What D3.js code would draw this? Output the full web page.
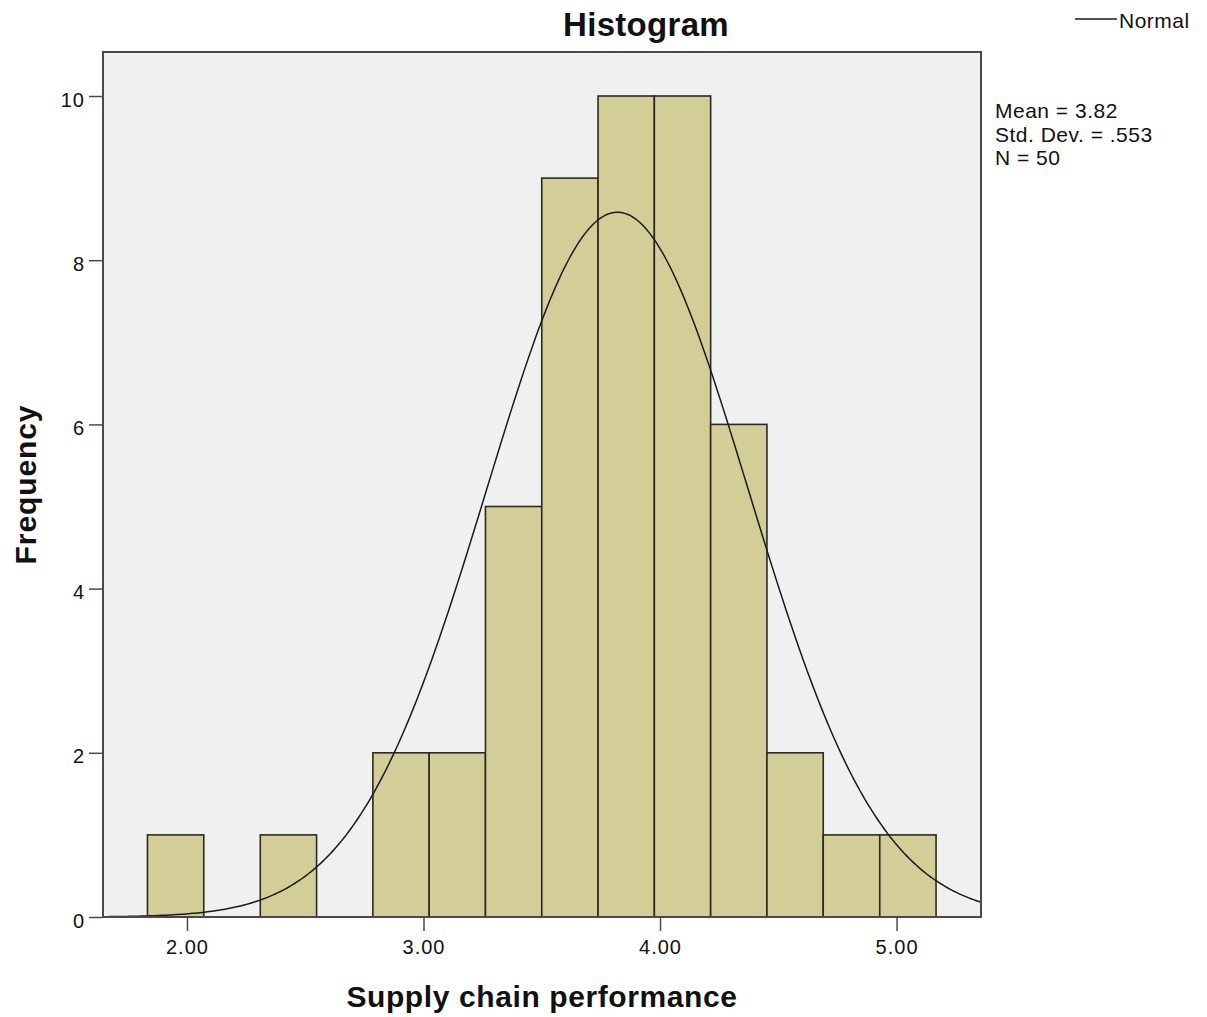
<!DOCTYPE html>
<html>
<head>
<meta charset="utf-8">
<script src="https://cdn.jsdelivr.net/npm/d3@7"></script>
<style>
    body { margin: 0; background: #fff; }
    svg text { font-family: "Liberation Sans", Arial, sans-serif; fill: #111; }
</style>
</head>
<body>
<div id="chart-container"></div>
<script>
// Bin edges of the histogram (Supply chain performance)
var binEdges = [1.833, 2.071, 2.310, 2.548, 2.786, 3.024, 3.262, 3.500, 3.738, 3.976, 4.214, 4.452, 4.690, 4.929, 5.167];
// Frequency in each bin
var binCounts = [1, 0, 1, 0, 2, 2, 5, 9, 10, 10, 6, 2, 1, 1];
var xTicks = [2, 3, 4, 5];
var yTicks = [0, 2, 4, 6, 8, 10];
var statMean = 3.82, statSd = 0.553, statN = 50;

var bins = binCounts.map(function (c, i) {
    return { x0: binEdges[i], x1: binEdges[i + 1], count: c };
});

var width = 1207, height = 1017;
var plot = { left: 103, right: 981, top: 52, bottom: 917 };

var svg = d3.select("#chart-container")
    .append("svg")
    .attr("width", width)
    .attr("height", height);

var x = d3.scaleLinear()
    .domain([1.645, 5.357])
    .range([plot.left, plot.right]);

var y = d3.scaleLinear()
    .domain([0, 10.536])
    .range([plot.bottom, plot.top]);

// Plot background
svg.append("rect")
    .attr("x", plot.left)
    .attr("y", plot.top)
    .attr("width", plot.right - plot.left)
    .attr("height", plot.bottom - plot.top)
    .attr("fill", "#f0f0f0");

// Bars
svg.selectAll(".bar")
    .data(bins.filter(function (d) { return d.count > 0; }))
    .enter()
    .append("rect")
    .attr("class", "bar")
    .attr("x", function (d) { return x(d.x0); })
    .attr("y", function (d) { return y(d.count); })
    .attr("width", function (d) { return x(d.x1) - x(d.x0); })
    .attr("height", function (d) { return y(0) - y(d.count); })
    .attr("fill", "#d3ce97")
    .attr("stroke", "#2a2a22")
    .attr("stroke-width", 1.6);

// Normal curve scaled to counts
var binWidth = binEdges[1] - binEdges[0];
var curveX = d3.range(1.645, 5.3575, 0.01);
var line = d3.line()
    .x(function (d) { return x(d); })
    .y(function (d) {
        var z = (d - statMean) / statSd;
        return y(statN * binWidth / (statSd * Math.sqrt(2 * Math.PI)) * Math.exp(-0.5 * z * z));
    });

svg.append("path")
    .datum(curveX)
    .attr("d", line)
    .attr("fill", "none")
    .attr("stroke", "#1a1a1a")
    .attr("stroke-width", 1.5);

// Frame
svg.append("rect")
    .attr("x", plot.left)
    .attr("y", plot.top)
    .attr("width", plot.right - plot.left)
    .attr("height", plot.bottom - plot.top)
    .attr("fill", "none")
    .attr("stroke", "#4a4a4a")
    .attr("stroke-width", 2);

// x axis
var xAxis = svg.append("g")
    .attr("transform", "translate(0," + plot.bottom + ")")
    .call(d3.axisBottom(x).tickValues(xTicks).tickSize(14).tickPadding(9)
        .tickFormat(d3.format(".2f")));
xAxis.select(".domain").remove();
xAxis.selectAll("line").attr("stroke", "#4a4a4a").attr("stroke-width", 1.5);
xAxis.selectAll("text")
    .style("font-family", "Liberation Sans, Arial, sans-serif")
    .style("font-size", "20px")
    .style("letter-spacing", "1px")
    .attr("fill", "#111");

// y axis
var yAxis = svg.append("g")
    .attr("transform", "translate(" + plot.left + ",0)")
    .call(d3.axisLeft(y).tickValues(yTicks).tickSize(14).tickPadding(4));
yAxis.select(".domain").remove();
yAxis.selectAll("line").attr("stroke", "#4a4a4a").attr("stroke-width", 1.5);
yAxis.selectAll("text")
    .attr("dy", "0.5em")
    .style("font-family", "Liberation Sans, Arial, sans-serif")
    .style("font-size", "20px")
    .style("letter-spacing", "1px")
    .attr("fill", "#111");

// Title
svg.append("text")
    .attr("x", 646)
    .attr("y", 36)
    .attr("text-anchor", "middle")
    .style("font-size", "33px")
    .style("font-weight", "bold")
    .style("letter-spacing", "0.3px")
    .text("Histogram");

// Axis titles
svg.append("text")
    .attr("x", (plot.left + plot.right) / 2)
    .attr("y", 1007)
    .attr("text-anchor", "middle")
    .style("font-size", "30px")
    .style("font-weight", "bold")
    .style("letter-spacing", "0.6px")
    .text("Supply chain performance");

svg.append("text")
    .attr("transform", "translate(36," + (plot.top + plot.bottom) / 2 + ")rotate(-90)")
    .attr("text-anchor", "middle")
    .style("font-size", "30px")
    .style("font-weight", "bold")
    .style("letter-spacing", "0.9px")
    .text("Frequency");

// Legend
svg.append("line")
    .attr("x1", 1075).attr("x2", 1117)
    .attr("y1", 19).attr("y2", 19)
    .attr("stroke", "#1a1a1a")
    .attr("stroke-width", 1.5);
svg.append("text")
    .attr("x", 1119)
    .attr("y", 28)
    .style("font-size", "21px")
    .style("letter-spacing", "0.5px")
    .text("Normal");

// Stats
var stats = ["Mean = 3.82", "Std. Dev. = .553", "N = 50"];
svg.selectAll(".stat")
    .data(stats)
    .enter()
    .append("text")
    .attr("class", "stat")
    .attr("x", 995)
    .attr("y", function (d, i) { return 118 + i * 23.5; })
    .style("font-size", "21px")
    .style("letter-spacing", "0.5px")
    .text(function (d) { return d; });
</script>
</body>
</html>
